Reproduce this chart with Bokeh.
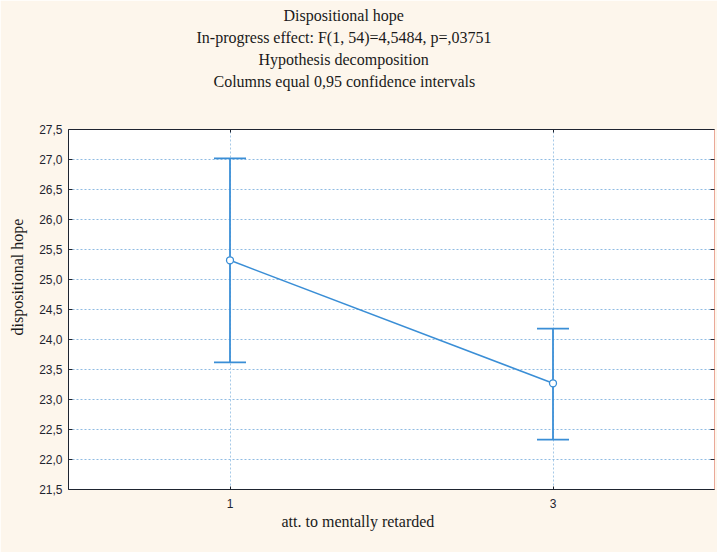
from bokeh.plotting import figure
from bokeh.models import (ColumnDataSource, Whisker, TeeHead, FixedTicker, CustomJSTickFormatter,
                          LinearAxis, CategoricalAxis, Title, Range1d, FactorRange)
from bokeh.embed import file_html
from bokeh.resources import INLINE

# ---- data ----
categories = ["1", "3"]
means = [25.32, 23.27]
upper = [27.02, 24.18]
lower = [23.62, 22.33]
y_ticks = [21.5, 22.0, 22.5, 23.0, 23.5, 24.0, 24.5, 25.0, 25.5, 26.0, 26.5, 27.0, 27.5]
y_tick_labels = ["21,5", "22,0", "22,5", "23,0", "23,5", "24,0", "24,5",
                 "25,0", "25,5", "26,0", "26,5", "27,0", "27,5"]
titles = ["Dispositional hope",
          "In-progress effect: F(1, 54)=4,5484, p=,03751",
          "Hypothesis  decomposition",
          "Columns equal 0,95 confidence intervals"]
x_label = "att. to mentally retarded"
y_label = "dispositional hope"

BLUE = "#3a8ed6"
CREAM = "#fdf6ec"
DARK = "#1e2430"
SALMON = "#eaa898"
GRID = "#8fbbe2"
SERIF = "Liberation Serif"
SANS = "Liberation Sans"

src = ColumnDataSource(dict(x=categories, mean=means, upper=upper, lower=lower))

p = figure(width=717, height=552, x_range=FactorRange(*categories),
           y_range=Range1d(y_ticks[0], y_ticks[-1]),
           output_backend="svg", toolbar_location=None,
           min_border_left=68, min_border_right=3, min_border_top=129, min_border_bottom=63)
p.border_fill_color = CREAM
p.background_fill_color = "white"
p.outline_line_color = None

fmt = CustomJSTickFormatter(args=dict(vals=y_ticks, labs=y_tick_labels), code="""
    let best = 0; let bd = 1e9;
    for (let i = 0; i < vals.length; i++) { const d = Math.abs(vals[i] - tick); if (d < bd) { bd = d; best = i; } }
    return labs[best];
""")

# left axis
ya = p.yaxis[0]
ya.ticker = FixedTicker(ticks=y_ticks)
ya.formatter = fmt
ya.major_tick_in = 4
ya.major_tick_out = 0
ya.minor_tick_line_color = None
ya.major_label_standoff = 6
ya.major_label_text_font = SANS
ya.major_label_text_font_size = "12px"
ya.major_label_text_color = DARK
ya.axis_line_color = DARK
ya.major_tick_line_color = DARK

# bottom axis
xa = p.xaxis[0]
xa.major_tick_in = 3
xa.major_tick_out = 0
xa.major_label_standoff = 9
xa.major_label_text_font = SANS
xa.major_label_text_font_size = "12px"
xa.major_label_text_color = DARK
xa.axis_line_color = DARK
xa.major_tick_line_color = DARK

# top axis (ticks only)
ta = CategoricalAxis(major_tick_in=3, major_tick_out=0,
                     formatter=CustomJSTickFormatter(code="return '';"),
                     major_label_standoff=0, axis_line_color=DARK, major_tick_line_color=DARK)
p.add_layout(ta, "above")
# invisible spacer axis between plot and titles
sp = CategoricalAxis(major_tick_in=0, major_tick_out=38,
                     formatter=CustomJSTickFormatter(code="return '';"),
                     major_label_standoff=0, axis_line_color=None, major_tick_line_color=None)
p.add_layout(sp, "above")
# right axis (ticks only)
ra = LinearAxis(ticker=FixedTicker(ticks=y_ticks), formatter=CustomJSTickFormatter(code="return '';"),
                major_tick_in=4, major_tick_out=0, minor_tick_line_color=None, major_label_standoff=0,
                axis_line_color=SALMON, major_tick_line_color=DARK)
p.add_layout(ra, "right")

# grids
p.ygrid.ticker = FixedTicker(ticks=y_ticks)
p.ygrid.grid_line_color = GRID
p.ygrid.grid_line_dash = "2 2"
p.xgrid.grid_line_color = GRID
p.xgrid.grid_line_dash = "2 2"
p.xgrid.grid_line_alpha = 0.8

# data
p.line(x="x", y="mean", source=src, line_color=BLUE, line_width=1.5)
w = Whisker(base="x", upper="upper", lower="lower", source=src, line_color=BLUE, line_width=1.8,
            upper_head=TeeHead(size=32, line_color=BLUE, line_width=1.8),
            lower_head=TeeHead(size=32, line_color=BLUE, line_width=1.8))
p.add_layout(w)
p.scatter(x="x", y="mean", source=src, marker="circle", size=7, fill_color="white",
          line_color=BLUE, line_width=1.3)

# titles: added nearest-first (left-aligned with pixel offsets so they centre near x=344)
offsets = [145, 190, 128, 215]
for t, off in zip(reversed(titles), offsets):
    p.add_layout(Title(text=t, align="left", offset=off, standoff=3, text_font=SERIF,
                       text_font_size="16px", text_font_style="normal", text_color="#1a1a1a"), "above")

p.add_layout(Title(text=x_label, align="left", offset=213, standoff=0, text_font=SERIF,
                   text_font_size="16px", text_font_style="normal", text_color="#1a1a1a"), "below")
p.add_layout(Title(text=y_label, align="left", offset=154, standoff=17, vertical_align="top",
                   text_font=SERIF, text_font_size="16px", text_font_style="normal",
                   text_color="#1a1a1a"), "left")

open("out.html", "w").write(file_html(p, INLINE))
